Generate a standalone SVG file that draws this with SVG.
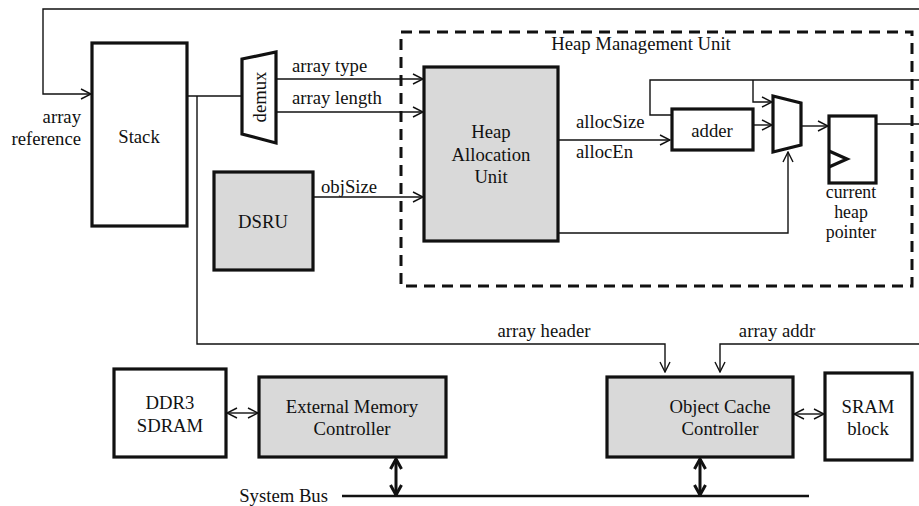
<svg xmlns="http://www.w3.org/2000/svg" width="919" height="506" viewBox="0 0 919 506">
<defs>
<style>
text{font-family:"Liberation Serif","Times New Roman",serif;font-size:18.7px;fill:#111}
.c{text-anchor:middle}
.r{text-anchor:end}
.sm{font-size:17.8px}
.box{stroke:#111;stroke-width:3.2;fill:#fff}
.g{fill:#d9d9d9}
.w{stroke:#111;stroke-width:1.4;fill:none}
.arr{marker-end:url(#ah)}
.thick{stroke:#111;stroke-width:3;fill:none;marker-start:url(#th);marker-end:url(#th)}
.dbl{marker-start:url(#ah);marker-end:url(#ah)}
</style>
<marker id="ah" viewBox="0 0 12 12" refX="11" refY="6" markerWidth="12" markerHeight="12" markerUnits="userSpaceOnUse" orient="auto-start-reverse">
<path d="M1,1 L11,6 L1,11" fill="none" stroke="#111" stroke-width="1.4"/>
</marker>
<marker id="th" viewBox="0 0 14 14" refX="12" refY="7" markerWidth="14" markerHeight="14" markerUnits="userSpaceOnUse" orient="auto-start-reverse">
<path d="M2,1.5 L12,7 L2,12.5" fill="none" stroke="#111" stroke-width="3"/>
</marker>
</defs>

<g id="hmu">
<rect x="401" y="32" width="511" height="254" fill="none" stroke="#111" stroke-width="3" stroke-dasharray="11,7"/>
<text class="c" x="641" y="50">Heap Management Unit</text>
</g>

<g id="connectors">
<polyline class="w" points="919,9 43,9 43,94 91,94" style="marker-end:url(#ah)"/>
<polyline class="w" points="187,96 242,96"/>
<polyline class="w" points="197,96 197,344 665,344 665,372" style="marker-end:url(#ah)"/>
<polyline class="w" points="919,344 720,344 720,372" style="marker-end:url(#ah)"/>
<line class="w arr" x1="276" y1="79" x2="423" y2="79"/>
<line class="w arr" x1="276" y1="112" x2="423" y2="112"/>
<line class="w arr" x1="313" y1="197" x2="423" y2="197"/>
<line class="w arr" x1="558" y1="140" x2="670" y2="140"/>
<polyline class="w" points="919,80 650,80 650,115 672,115"/>
<polyline class="w arr" points="753,80 753,102 772,102"/>
<line class="w arr" x1="753" y1="125" x2="772" y2="125"/>
<polyline class="w arr" points="558,233 788,233 788,152"/>
<line class="w arr" x1="802" y1="126" x2="828" y2="126"/>
<line class="w" x1="876" y1="124" x2="919" y2="124"/>
<line class="w dbl" x1="227" y1="413" x2="258" y2="413"/>
<line class="w dbl" x1="794" y1="414" x2="824" y2="414"/>
<line x1="342" y1="496" x2="809" y2="496" stroke="#111" stroke-width="2.6"/>
<line class="thick" x1="396" y1="459" x2="396" y2="495"/>
<line class="thick" x1="700" y1="459" x2="700" y2="495"/>
<text class="r" x="81" y="123">array</text>
<text class="r" x="81" y="145">reference</text>
<text x="292" y="72">array type</text>
<text x="292" y="104">array length</text>
<text x="321" y="193">objSize</text>
<text x="576" y="128">allocSize</text>
<text x="576" y="158">allocEn</text>
<text class="c" x="544" y="337">array header</text>
<text class="c" x="777" y="337">array addr</text>
</g>

<g id="stack">
<rect class="box" x="92" y="43" width="95" height="183"/>
<text class="c" x="139" y="143">Stack</text>
</g>

<g id="demux">
<polygon class="box" points="242,59 276,52 276,143 242,134"/>
<text class="c" transform="translate(266,97) rotate(-90)">demux</text>
</g>

<g id="dsru">
<rect class="box g" x="214" y="172" width="99" height="98"/>
<text class="c" x="263" y="228">DSRU</text>
</g>

<g id="hau">
<rect class="box g" x="424" y="67" width="134" height="174"/>
<text class="c" x="491" y="138">Heap</text>
<text class="c" x="491" y="161">Allocation</text>
<text class="c" x="491" y="183">Unit</text>
</g>

<g id="adder">
<rect class="box" x="672" y="109" width="81" height="41"/>
<text class="c" x="712" y="137">adder</text>
</g>

<g id="mux">
<polygon class="box" points="773,96 801,103 801,145 773,152"/>
</g>

<g id="register">
<rect class="box" x="829" y="116" width="47" height="67"/>
<polyline points="829,151 847,159 829,167" fill="none" stroke="#111" stroke-width="3.2"/>
<text class="c sm" x="851" y="198">current</text>
<text class="c sm" x="851" y="218">heap</text>
<text class="c sm" x="851" y="238">pointer</text>
</g>

<g id="ddr3">
<rect class="box" x="114" y="369" width="112" height="88"/>
<text class="c" x="170" y="409">DDR3</text>
<text class="c" x="170" y="432">SDRAM</text>
</g>

<g id="emc">
<rect class="box g" x="259" y="377" width="187" height="80"/>
<text class="c" x="352" y="413">External Memory</text>
<text class="c" x="352" y="435">Controller</text>
</g>

<g id="occ">
<rect class="box g" x="607" y="377" width="186" height="80"/>
<text class="c" x="720" y="413">Object Cache</text>
<text class="c" x="720" y="435">Controller</text>
</g>

<g id="sram">
<rect class="box" x="825" y="373" width="87" height="87"/>
<text class="c" x="868" y="413">SRAM</text>
<text class="c" x="868" y="435">block</text>
</g>

<g id="bus">
<text class="r" x="328" y="502">System Bus</text>
</g>
</svg>
